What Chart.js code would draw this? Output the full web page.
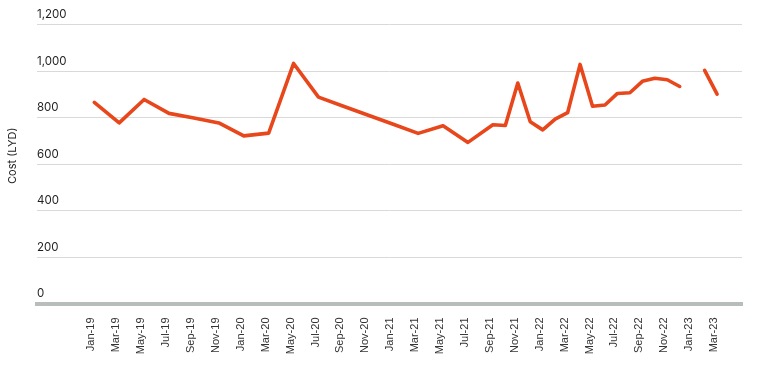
<!DOCTYPE html>
<html>
<head>
<meta charset="utf-8">
<title>Cost (LYD)</title>
<script src="https://cdn.jsdelivr.net/npm/chart.js@4.4.1/dist/chart.umd.min.js"></script>
<style>
  html, body { margin: 0; padding: 0; background: #ffffff; }
  canvas { display: block; }
</style>
</head>
<body>
<canvas id="costChart" width="764" height="381"></canvas>
<script>
// monthly categories, Jan-19 .. Mar-23
const months = [
  'Jan-19', 'Feb-19', 'Mar-19', 'Apr-19', 'May-19', 'Jun-19', 'Jul-19', 'Aug-19', 'Sep-19', 'Oct-19', 'Nov-19', 'Dec-19',
  'Jan-20', 'Feb-20', 'Mar-20', 'Apr-20', 'May-20', 'Jun-20', 'Jul-20', 'Aug-20', 'Sep-20', 'Oct-20', 'Nov-20', 'Dec-20',
  'Jan-21', 'Feb-21', 'Mar-21', 'Apr-21', 'May-21', 'Jun-21', 'Jul-21', 'Aug-21', 'Sep-21', 'Oct-21', 'Nov-21', 'Dec-21',
  'Jan-22', 'Feb-22', 'Mar-22', 'Apr-22', 'May-22', 'Jun-22', 'Jul-22', 'Aug-22', 'Sep-22', 'Oct-22', 'Nov-22', 'Dec-22',
  'Jan-23', 'Feb-23', 'Mar-23'
];

// cost in LYD, null = not recorded (line is joined across it)
const cost = [
  866, null, 778, null, 879, null, 819, null, 799, null, 778, null,
  722, null, 734, null, 1034, null, 889, null, 850, null, 811, null,
  772, null, 733, null, 766, null, 694, null, 770, 767, 950, 783,
  748, 794, 822, 1030, 850, 855, 905, 908, 957, 970, 964, 935,
  null, 1004, 902
];

// months where the series is broken (line is not joined across)
const noData = ['Jan-23'];

const yTicks = [0, 200, 400, 600, 800, 1000, 1200];

const LINE_COLOR = '#e8461b';
const GRID_COLOR = '#d9d9d9';
const AXIS_COLOR = '#b6bdba';

// p0DataIndex is the index just before p1, even if that one is skipped,
// so walk back over the skipped months
function crossesNoData(c) {
    for (let i = c.p1DataIndex - 1; i >= 0 && cost[i] === null; i--) {
        if (noData.includes(months[i])) return true;
    }
    return false;
}

const ctx = document.getElementById('costChart').getContext('2d');

new Chart(ctx, {
    type: 'line',
    data: {
        datasets: [{
            label: 'Cost (LYD)',
            data: cost.map((v, i) => ({ x: i, y: v })),
            borderColor: LINE_COLOR,
            borderWidth: 3.6,
            borderJoinStyle: 'round',
            borderCapStyle: 'round',
            pointRadius: 0,
            pointHoverRadius: 0,
            tension: 0,
            spanGaps: true,
            segment: {
                borderColor: c => crossesNoData(c) ? 'rgba(0,0,0,0)' : undefined
            }
        }]
    },
    options: {
        responsive: false,
        animation: false,
        layout: { padding: { top: 8, right: 22, bottom: 0, left: 0 } },
        plugins: {
            legend: { display: false },
            tooltip: { enabled: false }
        },
        scales: {
            x: {
                type: 'linear',
                min: -4.6,
                max: 52,
                afterBuildTicks: scale => {
                    scale.ticks = months.map((m, i) => ({ value: i })).filter((t, i) => i % 2 === 0);
                },
                afterFit: scale => { scale.height = 77.5; },
                grid: { display: false, drawTicks: false },
                border: { display: true, color: AXIS_COLOR, width: 4 },
                ticks: {
                    autoSkip: false,
                    minRotation: 90,
                    maxRotation: 90,
                    padding: 14,
                    labelOffset: -3,
                    color: '#333333',
                    font: { family: '"Liberation Sans", Arial, sans-serif', size: 11 },
                    callback: v => months[v]
                }
            },
            y: {
                min: 0,
                max: 1273,
                afterBuildTicks: scale => {
                    scale.ticks = yTicks.map(v => ({ value: v }));
                },
                afterFit: scale => { scale.width = 37; },
                grid: { color: GRID_COLOR, lineWidth: 1, drawTicks: false },
                border: { display: false },
                ticks: {
                    mirror: true,
                    padding: 0,
                    labelOffset: -10,
                    color: '#1f1f1f',
                    font: { family: 'Inter, "Noto Sans", sans-serif', size: 11.5 },
                    callback: v => v.toLocaleString('en-US')
                },
                title: {
                    display: true,
                    text: 'Cost (LYD)',
                    color: '#1f1f1f',
                    padding: { top: 6, bottom: 0 },
                    font: { family: 'Inter, "Noto Sans", sans-serif', size: 11 }
                }
            }
        }
    }
});
</script>
</body>
</html>
